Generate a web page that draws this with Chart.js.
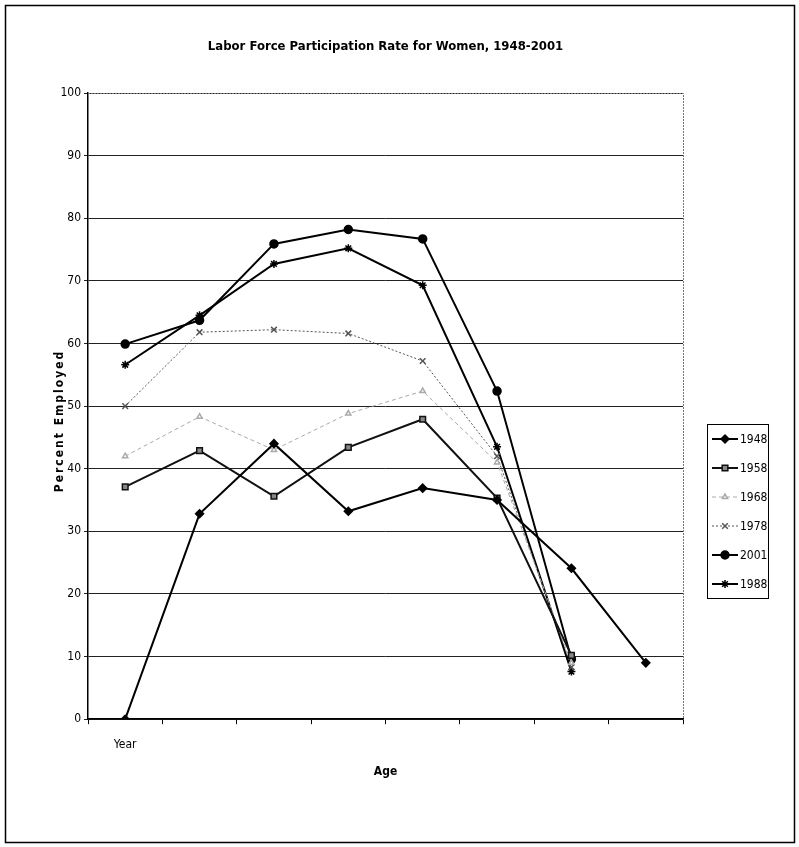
<!DOCTYPE html>
<html>
<head>
<meta charset="utf-8">
<script src="https://cdn.jsdelivr.net/npm/chart.js@4.4.1/dist/chart.umd.min.js"></script>
<style>
  body { margin: 0; background: #fff; }
  #wrap { width: 799px; height: 847px; }
</style>
</head>
<body>
<div id="wrap"><canvas id="chart" width="799" height="847"></canvas></div>
<script>
// Categories (only the first one is labelled in the original)
const categories = ['Year', '', '', '', '', '', '', ''];
const yTicks = [0, 10, 20, 30, 40, 50, 60, 70, 80, 90, 100];

// Series values
const y1948 = [0, 32.8, 44.0, 33.2, 36.9, 35.0, 24.1, 9.0];
const y1958 = [37.1, 42.9, 35.6, 43.4, 47.9, 35.3, 10.2, null];
const y1968 = [42.0, 48.3, 43.0, 48.8, 52.4, 41.0, 9.0, null];
const y1978 = [50.0, 61.8, 62.2, 61.6, 57.2, 42.0, 8.3, null];
const y2001 = [59.9, 63.7, 75.9, 78.2, 76.7, 52.4, 9.6, null];
const y1988 = [56.6, 64.5, 72.7, 75.2, 69.3, 43.5, 7.6, null];

const FONT = "'Liberation Sans Narrow', 'Arial Narrow', 'DejaVu Sans Condensed', sans-serif";

// Title, y axis title, legend and frame drawn on top of the chart
const extras = {
    id: 'extras',
    beforeDraw(chart) {
        const ctx = chart.ctx;
        ctx.save();
        ctx.fillStyle = '#fff';
        ctx.fillRect(0, 0, chart.width, chart.height);
        ctx.restore();
    },
    afterDraw(chart) {
        const ctx = chart.ctx;
        const area = chart.chartArea;
        ctx.save();

        // outer frame
        ctx.strokeStyle = '#000';
        ctx.lineWidth = 1.5;
        ctx.strokeRect(5.5, 5.5, 789, 837);

        // plot area border, top and right
        ctx.strokeStyle = '#777';
        ctx.lineWidth = 1;
        ctx.setLineDash([2, 1]);
        ctx.beginPath();
        ctx.moveTo(area.left, area.top + 0.5);
        ctx.lineTo(area.right + 0.5, area.top + 0.5);
        ctx.lineTo(area.right + 0.5, area.bottom);
        ctx.stroke();
        ctx.setLineDash([]);

        // chart title
        ctx.fillStyle = '#000';
        ctx.font = 'bold 13px ' + FONT;
        ctx.textAlign = 'center';
        ctx.textBaseline = 'middle';
        ctx.fillText('Labor Force Participation Rate for Women, 1948-2001', (area.left + area.right) / 2, 47);

        // y axis title with spaced letters
        ctx.save();
        ctx.translate(60, 421);
        ctx.rotate(-Math.PI / 2);
        ctx.font = 'bold 12px ' + FONT;
        ctx.letterSpacing = '2px';
        ctx.fillText('Percent Employed', 0, 0);
        ctx.restore();

        // legend
        const lx = 707, ly = 424, lw = 61, lh = 174;
        ctx.strokeStyle = '#000';
        ctx.lineWidth = 1;
        ctx.strokeRect(lx + 0.5, ly + 0.5, lw, lh);
        ctx.font = '12px ' + FONT;
        ctx.textAlign = 'left';
        chart.data.datasets.forEach((ds, i) => {
            const y = ly + 15 + i * 29;
            ctx.save();
            ctx.strokeStyle = ds.borderColor;
            ctx.lineWidth = ds.borderWidth;
            ctx.setLineDash(ds.borderDash || []);
            ctx.beginPath();
            ctx.moveTo(lx + 5, y);
            ctx.lineTo(lx + 31, y);
            ctx.stroke();
            ctx.setLineDash([]);
            ctx.fillStyle = ds.pointBackgroundColor;
            ctx.strokeStyle = ds.pointBorderColor;
            ctx.lineWidth = ds.pointBorderWidth;
            Chart.helpers.drawPoint(ctx, {
                pointStyle: ds.pointStyle,
                radius: ds.pointRadius,
                borderWidth: ds.pointBorderWidth,
                rotation: 0
            }, lx + 18, y);
            ctx.restore();
            ctx.fillStyle = '#000';
            ctx.fillText(ds.label, lx + 33, y + 1);
        });
        ctx.restore();
    }
};

function series(label, data, color, width, dash, style, radius, fill) {
    return {
        label: label,
        data: data,
        borderColor: color,
        borderWidth: width,
        borderDash: dash,
        pointStyle: style,
        pointRadius: radius,
        pointHoverRadius: radius,
        pointBorderColor: color,
        pointBackgroundColor: fill,
        pointBorderWidth: 1.5,
        tension: 0,
        spanGaps: false
    };
}

new Chart(document.getElementById('chart'), {
    type: 'line',
    data: {
        labels: categories,
        datasets: [
            series('1948', y1948, '#000', 2, [], 'rectRot', 4, '#000'),
            series('1958', y1958, '#111', 2, [], 'rect', 4, '#888'),
            series('1968', y1968, '#aaa', 1, [4, 3], 'triangle', 3, '#fff'),
            series('1978', y1978, '#555', 1, [2, 2], 'crossRot', 4, '#555'),
            series('2001', y2001, '#000', 2, [], 'circle', 4, '#000'),
            series('1988', y1988, '#000', 2, [], 'star', 4, '#000')
        ]
    },
    options: {
        responsive: false,
        animation: false,
        layout: { padding: { top: 93, right: 116, left: 46, bottom: 68 } },
        plugins: {
            legend: { display: false },
            title: { display: false },
            tooltip: { enabled: false }
        },
        scales: {
            x: {
                type: 'category',
                offset: true,
                grid: { display: true, drawOnChartArea: false, drawTicks: true, tickLength: 5, color: '#000', offset: true },
                border: { display: true, color: '#000', width: 1.5 },
                ticks: { color: '#000', font: { family: FONT, size: 12 }, padding: 13, maxRotation: 0, autoSkip: false },
                title: { display: true, text: 'Age', color: '#000', font: { family: FONT, size: 12, weight: 'bold' }, padding: { top: 0, bottom: 0 } }
            },
            y: {
                min: 0,
                max: 100,
                afterFit(scale) { scale.width = 42; },
                afterBuildTicks(scale) { scale.ticks = yTicks.map(v => ({ value: v })); },
                grid: { color: '#222', lineWidth: 1, tickLength: 4 },
                border: { display: true, color: '#000', width: 1.5 },
                ticks: { color: '#000', font: { family: FONT, size: 12 }, padding: 3 }
            }
        }
    },
    plugins: [extras]
});
</script>
</body>
</html>
